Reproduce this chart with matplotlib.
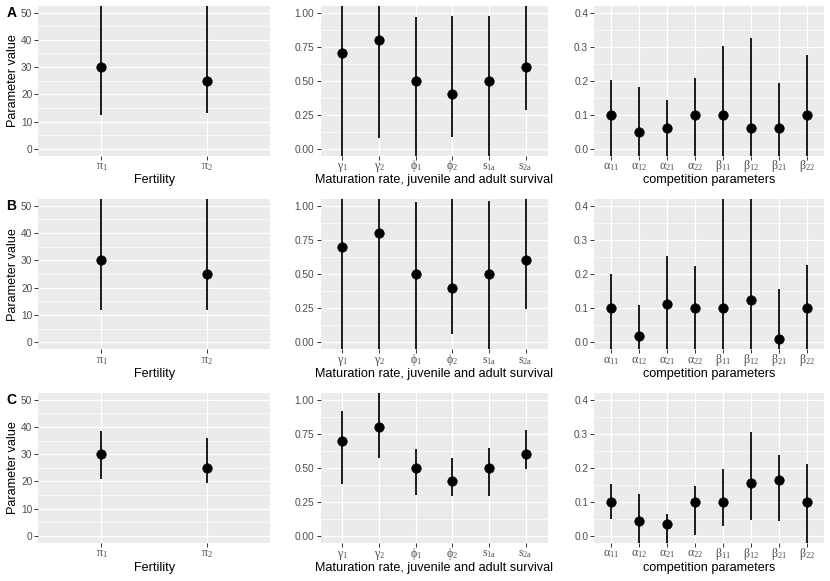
import matplotlib
matplotlib.use('Agg')
import matplotlib.pyplot as plt
import numpy as np

plt.rcParams['font.family'] = ['Liberation Sans', 'DejaVu Sans']
plt.rcParams['mathtext.fontset'] = 'custom'
plt.rcParams['mathtext.rm'] = 'Liberation Serif'
plt.rcParams['mathtext.it'] = 'Liberation Serif'
plt.rcParams['mathtext.default'] = 'rm'

# ---------------- data ----------------
fert_labels = [r'$\pi_1$', r'$\pi_2$']
surv_labels = [r'$\gamma_1$', r'$\gamma_2$', r'$\phi_1$', r'$\phi_2$', r'$s_{1a}$', r'$s_{2a}$']
comp_labels = [r'$\alpha_{11}$', r'$\alpha_{12}$', r'$\alpha_{21}$', r'$\alpha_{22}$',
               r'$\beta_{11}$', r'$\beta_{12}$', r'$\beta_{21}$', r'$\beta_{22}$']

fert_est = [30, 25]
surv_est = [0.7, 0.8, 0.5, 0.4, 0.5, 0.6]

# Row A
A_fert_lo = [12.5, 13.0]
A_fert_hi = [60.0, 60.0]
A_surv_lo = [-0.3, 0.08, -0.3, 0.09, -0.3, 0.285]
A_surv_hi = [1.3, 1.3, 0.965, 0.975, 0.978, 1.3]
A_comp_est = [0.1, 0.05, 0.06, 0.1, 0.1, 0.06, 0.06, 0.1]
A_comp_lo = [-0.1, -0.1, -0.1, -0.1, -0.1, -0.1, -0.1, -0.1]
A_comp_hi = [0.203, 0.182, 0.142, 0.208, 0.302, 0.325, 0.193, 0.275]

# Row B
B_fert_lo = [12.0, 12.0]
B_fert_hi = [60.0, 60.0]
B_surv_lo = [-0.3, -0.3, -0.3, 0.06, -0.3, 0.245]
B_surv_hi = [1.3, 1.3, 1.027, 1.3, 1.036, 1.3]
B_comp_est = [0.1, 0.02, 0.112, 0.1, 0.1, 0.125, 0.01, 0.1]
B_comp_lo = [-0.1, -0.1, -0.1, -0.1, -0.1, -0.1, -0.1, -0.1]
B_comp_hi = [0.201, 0.109, 0.252, 0.223, 0.6, 0.6, 0.156, 0.228]

# Row C
C_fert_lo = [20.8, 19.5]
C_fert_hi = [38.7, 36.0]
C_surv_lo = [0.38, 0.57, 0.30, 0.295, 0.29, 0.49]
C_surv_hi = [0.92, 1.3, 0.64, 0.575, 0.645, 0.775]
C_comp_est = [0.1, 0.043, 0.035, 0.1, 0.1, 0.155, 0.165, 0.1]
C_comp_lo = [0.05, -0.1, -0.1, 0.003, 0.03, 0.048, 0.045, -0.1]
C_comp_hi = [0.152, 0.122, 0.065, 0.147, 0.198, 0.305, 0.237, 0.21]

row_tags = ['A', 'B', 'C']

# ---------------- layout ----------------
W, H = 830, 581
fig = plt.figure(figsize=(W / 100, H / 100), dpi=100)

col_x = [(38.3, 270.0), (320.5, 547.5), (594.3, 823.7)]
row_y = [(5.7, 155.6), (199.0, 349.3), (393.0, 542.7)]

panel_specs = [
    dict(labels=fert_labels, ylim=(-2.5, 52.5), major=[0, 10, 20, 30, 40, 50],
         minor=[5, 15, 25, 35, 45], fmt='{:.0f}', xlabel='Fertility'),
    dict(labels=surv_labels, ylim=(-0.05, 1.05), major=[0, 0.25, 0.5, 0.75, 1.0],
         minor=[0.125, 0.375, 0.625, 0.875], fmt='{:.2f}',
         xlabel='Maturation rate, juvenile and adult survival'),
    dict(labels=comp_labels, ylim=(-0.02, 0.42), major=[0, 0.1, 0.2, 0.3, 0.4],
         minor=[0.05, 0.15, 0.25, 0.35], fmt='{:.1f}', xlabel='competition parameters'),
]

rows_data = [
    [(fert_est, A_fert_lo, A_fert_hi), (surv_est, A_surv_lo, A_surv_hi), (A_comp_est, A_comp_lo, A_comp_hi)],
    [(fert_est, B_fert_lo, B_fert_hi), (surv_est, B_surv_lo, B_surv_hi), (B_comp_est, B_comp_lo, B_comp_hi)],
    [(fert_est, C_fert_lo, C_fert_hi), (surv_est, C_surv_lo, C_surv_hi), (C_comp_est, C_comp_lo, C_comp_hi)],
]

for r, (ytop, ybot) in enumerate(row_y):
    for c, (xl, xr) in enumerate(col_x):
        spec = panel_specs[c]
        est, lo, hi = rows_data[r][c]
        ax = fig.add_axes([xl / W, 1 - ybot / H, (xr - xl) / W, (ybot - ytop) / H])
        ax.set_facecolor('#EBEBEB')
        for s in ax.spines.values():
            s.set_visible(False)
        n = len(spec['labels'])
        xs = np.arange(1, n + 1)
        ax.set_xlim(0.4, n + 0.6)
        ax.set_ylim(*spec['ylim'])
        ax.set_yticks(spec['major'])
        ax.set_yticks(spec['minor'], minor=True)
        ax.set_yticklabels([spec['fmt'].format(v) for v in spec['major']])
        ax.set_xticks(xs)
        ax.set_xticklabels(spec['labels'], va='baseline')
        ax.set_axisbelow(True)
        ax.grid(which='major', color='white', lw=0.9)
        ax.grid(which='minor', axis='y', color='white', lw=0.45)
        ax.tick_params(which='major', length=2.6, width=0.7, color='#333333',
                       labelcolor='#4D4D4D', labelsize=7.3, pad=1.8)
        ax.tick_params(which='minor', length=0)
        ax.tick_params(axis='x', labelsize=8.6, pad=7.4)
        ax.vlines(xs, lo, hi, color='black', lw=1.25, zorder=3)
        ax.plot(xs, est, 'o', color='black', ms=6.8, mew=0.5, zorder=4)
        fig.text((xl + xr) / 2 / W, 1 - (ybot + 24.8) / H, spec['xlabel'],
                 fontsize=9.1, color='black', ha='center', va='center')
        if c == 0:
            fig.text(12.5 / W, 1 - (ytop + ybot) / 2 / H, 'Parameter value',
                     fontsize=9.1, color='black', rotation=90,
                     ha='center', va='center')
            fig.text(11.5 / W, 1 - (ytop + 7) / H, row_tags[r], fontsize=10,
                     fontweight='bold', ha='center', va='center')

fig.savefig('out.png', dpi=100)
